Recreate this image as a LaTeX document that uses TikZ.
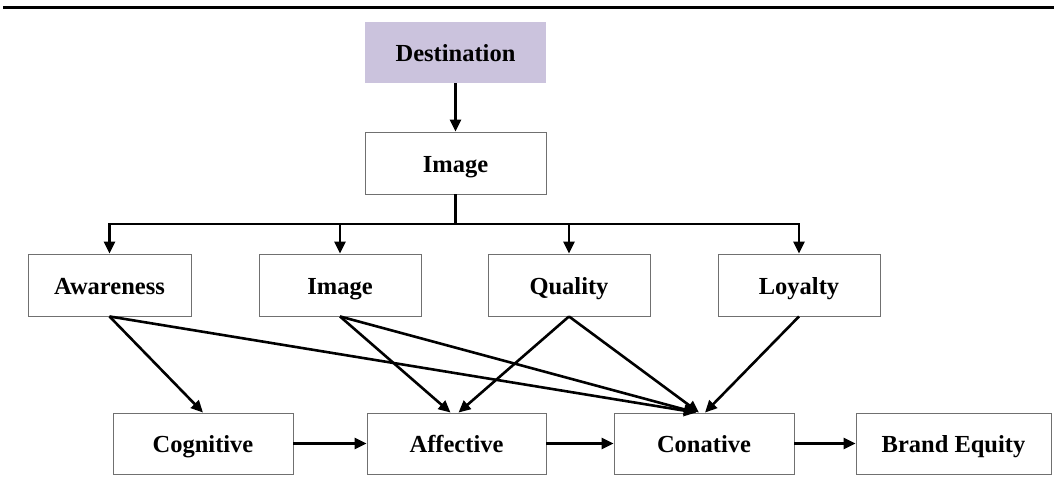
\documentclass[tikz,border=0pt]{standalone}
\usepackage{fontspec}
\setmainfont{Liberation Serif}
\usetikzlibrary{arrows.meta}
\definecolor{lavender}{HTML}{CBC3DD}
\definecolor{boxline}{HTML}{707070}
\begin{document}
\begin{tikzpicture}[x=1pt,y=-1pt,
  every node/.style={font=\fontsize{24.5}{28}\selectfont\bfseries, inner sep=0pt,
    text height=20pt, text depth=2pt},
  box/.style={draw=boxline, line width=0.9pt, fill=white, minimum height=62},
  headbox/.style={fill=lavender, minimum height=61, minimum width=181},
  arr/.style={line width=2.6pt, -{Triangle[length=12pt,width=11pt]}},
  plain/.style={line width=2.6pt}]
\useasboundingbox (0,0) rectangle (1054,477);
% rule across the top
\draw[line width=3pt] (3,7) -- (1054,7);

% top chain
\node[headbox] (dest) at (455.5,52.5) {Destination};
\node[box, minimum width=181] (img) at (455.5,163) {Image};

% dimensions row
\node[box, minimum width=163] (aw)  at (109.5,285) {Awareness};
\node[box, minimum width=162] (im2) at (340,285) {Image};
\node[box, minimum width=162] (qu)  at (569,285) {Quality};
\node[box, minimum width=162] (lo)  at (799,285) {Loyalty};

% outcome row
\node[box, minimum width=180, minimum height=61] (cog) at (203,443.5) {Cognitive};
\node[box, minimum width=179, minimum height=61] (aff) at (456.5,443.5) {Affective};
\node[box, minimum width=180, minimum height=61] (con) at (704,443.5) {Conative};
\node[box, minimum width=195, minimum height=61] (be)  at (953.5,443.5) {Brand Equity};

% destination to image
\draw[arr] (dest.south) -- (img.north);

% branching bus
\coordinate (split) at (455.5,224);
\draw[plain] (img.south) -- (split);
\draw[plain] ([xshift=-1.3pt]aw.north |- split) -- ([xshift=1.3pt]lo.north |- split);
\draw[arr] (split -| aw.north) -- (aw.north);
\draw[arr] (split -| im2.north) -- (im2.north);
\draw[arr] (split -| qu.north) -- (qu.north);
\draw[arr] (split -| lo.north) -- (lo.north);

% dimensions to outcomes
\draw[arr] (aw.south) -- (cog.north);
\draw[arr] (aw.south) -- ([xshift=-8pt]con.north);
\draw[arr] (im2.south) -- ([xshift=-6pt]aff.north);
\draw[arr] (im2.south) -- ([xshift=-8pt]con.north);
\draw[arr] (qu.south) -- ([xshift=2pt]aff.north);
\draw[arr] (qu.south) -- ([xshift=-5pt]con.north);
\draw[arr] (lo.south) -- ([xshift=1pt]con.north);

% outcome chain
\draw[arr] (cog.east) -- (aff.west);
\draw[arr] (aff.east) -- (con.west);
\draw[arr] (con.east) -- (be.west);
\end{tikzpicture}
\end{document}
